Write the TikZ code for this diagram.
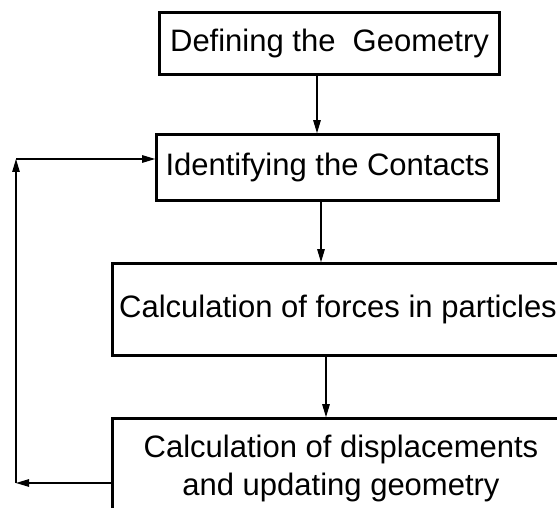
\documentclass[tikz,border=0pt]{standalone}
\usepackage{fontspec}
\setmainfont{Liberation Sans}
\usetikzlibrary{arrows.meta}

\begin{document}
\begin{tikzpicture}[x=1pt,y=-1pt,
	stage/.style={draw,line width=2.6pt,inner sep=0pt,align=center,font=\fontsize{31}{38}\selectfont},
	flow/.style={-{Triangle[length=13pt,width=7.5pt]},line width=1.1pt}]
\useasboundingbox (0,0) rectangle (557,508);
\clip (0,0) rectangle (557,508);
\node[stage,minimum width=340pt,minimum height=62pt] (Geo) at (329.5,43.5) {Defining the \ Geometry}; % step 1
\node[stage,minimum width=342pt,minimum height=66pt] (Cont) at (327.5,167.5) {Identifying the Contacts}; % step 2
\node[stage,minimum width=451pt,minimum height=92pt] (Forc) at (338,309.5) {Calculation of forces in particles}; % step 3
\node[stage,minimum width=457pt,minimum height=99pt] (Disp) at (341,468) {Calculation of displacements\\and updating geometry}; % step 4

\coordinate (LoopB) at (16,483);
\coordinate (LoopT) at (16,159);

\draw[flow] ([xshift=-12.5pt]Geo.south) -- ([xshift=-12.5pt]Geo.south |- Cont.north);
\draw[flow] ([xshift=-6.5pt]Cont.south) -- ([xshift=-6.5pt]Cont.south |- Forc.north);
\draw[flow] ([xshift=-12pt]Forc.south) -- ([xshift=-12pt]Forc.south |- Disp.north);

\draw[flow] (Disp.west |- LoopB) -- (LoopB); % back to contacts
\draw[flow] (LoopB) -- (LoopT);
\draw[flow] (LoopT) -- (Cont.west |- LoopT);
\end{tikzpicture}
\end{document}
